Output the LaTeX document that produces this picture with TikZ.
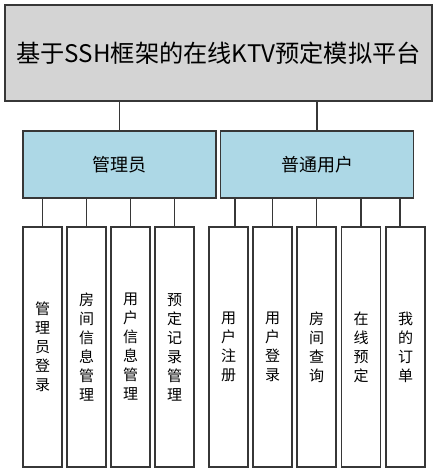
\documentclass[tikz,border=0pt]{standalone}
\usepackage{fontspec}
\setmainfont{Noto Sans CJK SC}
\definecolor{edgec}{RGB}{55,55,55}
\definecolor{topfill}{RGB}{212,212,212}
\definecolor{midfill}{RGB}{173,216,230}
\tikzset{
  box/.style={draw=edgec, line width=1.3pt, inner sep=0pt, align=center},
  topbox/.style={box, fill=topfill, minimum width=427pt, minimum height=96pt, font=\fontsize{24.2}{28}\selectfont},
  midbox/.style={box, fill=midfill, minimum width=193pt, minimum height=67pt, font=\fontsize{18}{22}\selectfont},
  leaf/.style={box, fill=white, minimum width=39pt, minimum height=240pt, font=\fontsize{15}{19}\selectfont},
  link/.style={draw=edgec, line width=1.3pt}
}
\begin{document}
\begin{tikzpicture}[x=1pt,y=1pt]
\useasboundingbox (0,0) rectangle (437,-473);
\node[topbox] (top) at (218.5,-53) {基于SSH框架的在线KTV预定模拟平台};
\node[midbox] (adm) at (119.5,-164.5) {管理员};
\node[midbox] (usr) at (317,-164.5) {普通用户};
\node[leaf] (a1) at (42.5,-347) {管\\理\\员\\登\\录};
\node[leaf] (a2) at (86.5,-347) {房\\间\\信\\息\\管\\理};
\node[leaf] (a3) at (130.5,-347) {用\\户\\信\\息\\管\\理};
\node[leaf] (a4) at (174.5,-347) {预\\定\\记\\录\\管\\理};
\node[leaf] (u1) at (228.5,-347) {用\\户\\注\\册};
\node[leaf] (u2) at (272.5,-347) {用\\户\\登\\录};
\node[leaf] (u3) at (316.5,-347) {房\\间\\查\\询};
\node[leaf] (u4) at (361,-347) {在\\线\\预\\定};
\node[leaf] (u5) at (405.5,-347) {我\\的\\订\\单};
\draw[link] (top.south -| adm.north) -- (adm.north);
\draw[link] (top.south -| usr.north) -- (usr.north);
\foreach \n in {a1,a2,a3,a4}{
  \draw[link] (\n.north) -- (\n.north |- adm.south);
}
\draw[link] ([xshift=6.5pt]u1.north) -- ([xshift=6.5pt]u1.north |- usr.south);
\foreach \n in {u2,u3,u4}{
  \draw[link] (\n.north) -- (\n.north |- usr.south);
}
\draw[link] ([xshift=-5.5pt]u5.north) -- ([xshift=-5.5pt]u5.north |- usr.south);
\end{tikzpicture}
\end{document}
